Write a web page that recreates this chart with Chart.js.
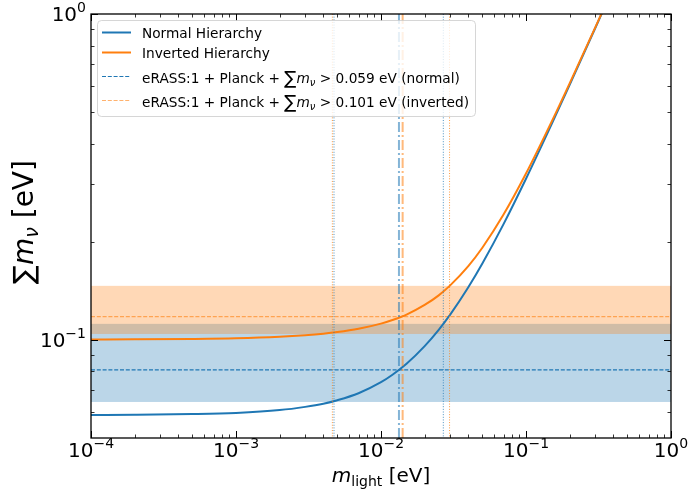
<!DOCTYPE html>
<html>
<head>
<meta charset="utf-8">
<script src="https://cdn.jsdelivr.net/npm/chart.js@4.4.1/dist/chart.umd.min.js"></script>
<style>
  html, body { margin: 0; padding: 0; background: #ffffff; }
  canvas { display: block; }
</style>
</head>
<body>
<canvas id="chart" width="688" height="492"></canvas>
<script>
// Lightest neutrino mass (eV) and the summed masses for each ordering (eV)
const lightestMass = [1e-4, 2e-4, 5e-4, 1e-3, 2e-3, 3e-3, 4e-3, 5e-3, 7e-3, 0.01, 0.012, 0.015,
                      0.02, 0.025, 0.03, 0.04, 0.05, 0.07, 0.1, 0.15, 0.2, 0.3, 0.4];
const sumNormal   = [0.0588, 0.0589, 0.0592, 0.0597, 0.0609, 0.0623, 0.0637, 0.0653, 0.0686, 0.0742, 0.0782, 0.0845,
                     0.0957, 0.1074, 0.1195, 0.1450, 0.1715, 0.2266, 0.3122, 0.4584, 0.6063, 0.9043, 1.2032];
const sumInverted = [0.1003, 0.1004, 0.1007, 0.1012, 0.1023, 0.1034, 0.1045, 0.1057, 0.1082, 0.1122, 0.1151, 0.1196,
                     0.1280, 0.1370, 0.1470, 0.1685, 0.1918, 0.2424, 0.3239, 0.4665, 0.6125, 0.9084, 1.2063];

// eRASS:1 + Planck constraints on the sum (central value and band), eV
const boundNormal   = 0.0809;
const bandNormal    = [0.0645, 0.1120];
const boundInverted = 0.1179;
const bandInverted  = [0.1043, 0.1465];

// Lightest masses where the curves meet the constraints, eV
const crossNormal   = 0.0133;
const crossInverted = 0.0141;
const edgesNormal   = [0.00474, 0.0269];
const edgesInverted = [0.00462, 0.0297];

// Axis decades (powers of ten) and minor tick values
const xDecades = [-4, -3, -2, -1, 0];
const yDecades = [-1, 0];
const yMinor   = [0.06, 0.07, 0.08, 0.09, 0.2, 0.3, 0.4, 0.5, 0.6, 0.7, 0.8, 0.9];

const legendLabels = [
  'Normal Hierarchy',
  'Inverted Hierarchy',
  ['eRASS:1 + Planck + ', '0.059 eV (normal)'],
  ['eRASS:1 + Planck + ', '0.101 eV (inverted)']
];

const BLUE = '#1f77b4';
const ORANGE = '#ff7f0e';
const FONT = '"DejaVu Sans", sans-serif';

function drawRuns(ctx, parts, x, y, align) {
  let total = 0;
  const widths = parts.map(p => { ctx.font = p[1]; const w = ctx.measureText(p[0]).width; total += w; return w; });
  let cx = align === 'center' ? x - total / 2 : align === 'right' ? x - total : x;
  parts.forEach((p, i) => { ctx.font = p[1]; ctx.fillText(p[0], cx, y + (p[2] || 0)); cx += widths[i]; });
  return total;
}

function powerLabel(e) {
  return [['10', '20px ' + FONT], [(e < 0 ? '\u2212' + (-e) : String(e)), '14px ' + FONT, -9]];
}

function hLine(ctx, area, y, color, width, dash) {
  ctx.beginPath();
  ctx.strokeStyle = color; ctx.lineWidth = width; ctx.setLineDash(dash);
  ctx.moveTo(area.left, y); ctx.lineTo(area.right, y); ctx.stroke();
}
function vLine(ctx, area, x, color, width, dash) {
  ctx.beginPath();
  ctx.strokeStyle = color; ctx.lineWidth = width; ctx.setLineDash(dash);
  ctx.moveTo(x, area.top); ctx.lineTo(x, area.bottom); ctx.stroke();
}

// Shaded constraint bands and their central values, under the curves
const bandsPlugin = {
  id: 'bands',
  beforeDatasetsDraw(chart) {
    const { ctx, chartArea: a, scales: { y } } = chart;
    ctx.save();
    ctx.beginPath(); ctx.rect(a.left, a.top, a.right - a.left, a.bottom - a.top); ctx.clip();
    const nTop = y.getPixelForValue(bandNormal[1]), nBot = y.getPixelForValue(bandNormal[0]);
    ctx.fillStyle = 'rgba(31,119,180,0.3)';
    ctx.fillRect(a.left, nTop, a.right - a.left, nBot - nTop);
    const iTop = y.getPixelForValue(bandInverted[1]), iBot = y.getPixelForValue(bandInverted[0]);
    ctx.fillStyle = 'rgba(255,127,14,0.3)';
    ctx.fillRect(a.left, iTop, a.right - a.left, iBot - iTop);
    hLine(ctx, a, y.getPixelForValue(boundNormal), BLUE, 1.1, [4, 1.8]);
    hLine(ctx, a, y.getPixelForValue(boundInverted), 'rgba(255,127,14,0.6)', 1.1, [4, 1.8]);
    ctx.restore();
  },
  afterDatasetsDraw(chart) {
    const { ctx, chartArea: a, scales: { x } } = chart;
    ctx.save();
    edgesNormal.forEach(v => vLine(ctx, a, x.getPixelForValue(v), 'rgba(31,119,180,0.8)', 1, [1, 1.65]));
    edgesInverted.forEach(v => vLine(ctx, a, x.getPixelForValue(v), 'rgba(255,127,14,0.8)', 1, [1, 1.65]));
    vLine(ctx, a, x.getPixelForValue(crossNormal), 'rgba(31,119,180,0.55)', 2, [10, 3, 2, 3]);
    vLine(ctx, a, x.getPixelForValue(crossInverted), 'rgba(255,127,14,0.55)', 2, [10, 3, 2, 3]);
    ctx.restore();
  }
};

// Frame, inward ticks, power-of-ten labels, axis titles and legend
const framePlugin = {
  id: 'frame',
  afterDraw(chart) {
    const { ctx, chartArea: a, scales: { x, y } } = chart;
    ctx.save();
    ctx.setLineDash([]);
    ctx.strokeStyle = '#000'; ctx.fillStyle = '#000';

    // ticks
    const tick = (x0, y0, x1, y1, w) => { ctx.beginPath(); ctx.lineWidth = w; ctx.moveTo(x0, y0); ctx.lineTo(x1, y1); ctx.stroke(); };
    xDecades.forEach(e => {
      const p = Math.round(x.getPixelForValue(Math.pow(10, e))) + 0.5;
      tick(p, a.bottom, p, a.bottom - 7, 1);
      tick(p, a.top, p, a.top + 7, 1);
      if (e < 0) {
        for (let j = 2; j <= 9; j++) {
          const q = Math.round(x.getPixelForValue(j * Math.pow(10, e))) + 0.5;
          tick(q, a.bottom, q, a.bottom - 3.5, 0.8);
          tick(q, a.top, q, a.top + 3.5, 0.8);
        }
      }
    });
    yDecades.forEach(e => {
      const p = Math.round(y.getPixelForValue(Math.pow(10, e))) + 0.5;
      tick(a.left, p, a.left + 7, p, 1);
      tick(a.right, p, a.right - 7, p, 1);
    });
    yMinor.forEach(v => {
      const p = Math.round(y.getPixelForValue(v)) + 0.5;
      tick(a.left, p, a.left + 3.5, p, 0.8);
      tick(a.right, p, a.right - 3.5, p, 0.8);
    });

    // frame
    ctx.lineWidth = 1.3;
    ctx.strokeRect(a.left, a.top, a.right - a.left, a.bottom - a.top);

    // tick labels
    ctx.textBaseline = 'alphabetic';
    xDecades.forEach(e => drawRuns(ctx, powerLabel(e), x.getPixelForValue(Math.pow(10, e)), a.bottom + 18.5, 'center'));
    yDecades.forEach(e => drawRuns(ctx, powerLabel(e), a.left - 5, y.getPixelForValue(Math.pow(10, e)) + 7, 'right'));

    // axis titles
    drawRuns(ctx, [['m', 'italic 20px ' + FONT], ['light', '14px ' + FONT, 3.5], [' [eV]', '20px ' + FONT]],
             (a.left + a.right) / 2, 482, 'center');
    ctx.save();
    ctx.translate(33, 222);
    ctx.rotate(-Math.PI / 2);
    drawRuns(ctx, [['\u2211', '28px ' + FONT], ['m', 'italic 28px ' + FONT], ['\u03bd', 'italic 19px ' + FONT, 4.5],
                   [' [eV]', '28px ' + FONT]], 0, 0, 'center');
    ctx.restore();

    // legend
    const lx = 97, ly = 20, lw = 378, lh = 96;
    ctx.beginPath();
    ctx.roundRect(lx + 0.5, ly + 0.5, lw, lh, 4);
    ctx.fillStyle = 'rgba(255,255,255,0.8)'; ctx.fill();
    ctx.lineWidth = 1; ctx.strokeStyle = 'rgba(204,204,204,0.8)'; ctx.stroke();

    const handle = (yy, color, width, dash) => {
      ctx.beginPath(); ctx.setLineDash(dash); ctx.strokeStyle = color; ctx.lineWidth = width;
      ctx.moveTo(102, yy); ctx.lineTo(131, yy); ctx.stroke(); ctx.setLineDash([]);
    };
    handle(32.5, BLUE, 2, []);
    handle(52.5, ORANGE, 2, []);
    handle(76.5, BLUE, 1.1, [4, 1.8]);
    handle(100.5, 'rgba(255,127,14,0.6)', 1.1, [4, 1.8]);

    ctx.fillStyle = '#000';
    const tf = '13.7px ' + FONT;
    drawRuns(ctx, [[legendLabels[0], tf]], 142, 38.3, 'left');
    drawRuns(ctx, [[legendLabels[1], tf]], 142, 58.3, 'left');
    [[legendLabels[2], 82.7], [legendLabels[3], 106.7]].forEach(([lab, by]) => {
      drawRuns(ctx, [[lab[0], tf], ['\u2211', '18px ' + FONT, 1], ['m', 'italic 13.7px ' + FONT],
                     ['\u03bd', 'italic 10px ' + FONT, 3], [' > ', tf], [lab[1], tf]], 142, by, 'left');
    });
    ctx.restore();
  }
};

new Chart(document.getElementById('chart').getContext('2d'), {
  type: 'line',
  data: {
    datasets: [
      {
        label: 'Normal Hierarchy',
        data: lightestMass.map((m, i) => ({ x: m, y: sumNormal[i] })),
        borderColor: BLUE, borderWidth: 2, pointRadius: 0,
        cubicInterpolationMode: 'monotone', fill: false, order: 2
      },
      {
        label: 'Inverted Hierarchy',
        data: lightestMass.map((m, i) => ({ x: m, y: sumInverted[i] })),
        borderColor: ORANGE, borderWidth: 2, pointRadius: 0,
        cubicInterpolationMode: 'monotone', fill: false, order: 1
      }
    ]
  },
  options: {
    responsive: false,
    animation: false,
    devicePixelRatio: 1,
    events: [],
    layout: { padding: { left: 91, right: 17, top: 14, bottom: 54 } },
    scales: {
      x: { type: 'logarithmic', min: 1e-4, max: 1, display: false },
      y: { type: 'logarithmic', min: 0.05, max: 1, display: false }
    },
    plugins: { legend: { display: false }, tooltip: { enabled: false } }
  },
  plugins: [bandsPlugin, framePlugin]
});
</script>
</body>
</html>
